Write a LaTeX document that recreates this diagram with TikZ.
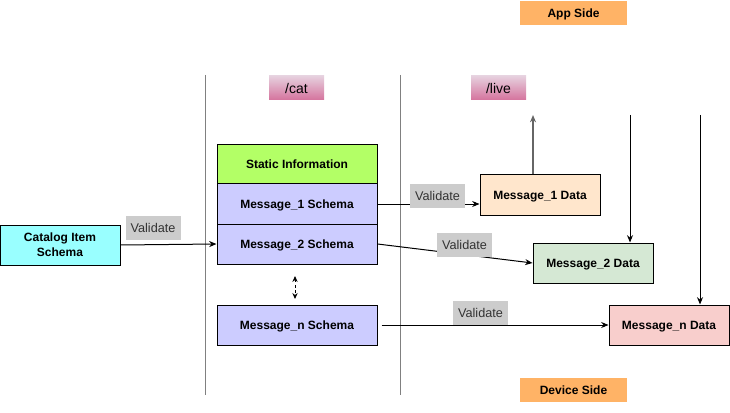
\documentclass[tikz,border=0pt]{standalone}
\usepackage{fontspec}
\setmainfont{Liberation Sans}
\usetikzlibrary{arrows.meta}
\definecolor{schemacol}{HTML}{CCCCFF}
\definecolor{staticcol}{HTML}{B3FF66}
\definecolor{catcol}{HTML}{99FFFF}
\definecolor{m1col}{HTML}{FFE6CC}
\definecolor{m2col}{HTML}{D5E8D4}
\definecolor{mncol}{HTML}{F8CECC}
\definecolor{valcol}{HTML}{CCCCCC}
\definecolor{sidecol}{HTML}{FFB366}
\definecolor{pinktop}{HTML}{E6D0DE}
\definecolor{pinkbot}{HTML}{D5739D}
\definecolor{linegray}{HTML}{808080}
\definecolor{arrgray}{HTML}{666666}
\tikzset{
  box/.style={draw=black, line width=0.75pt, align=center, inner sep=0pt,
    font=\fontsize{9}{11}\selectfont\bfseries},
  schemabox/.style={box, fill=schemacol, minimum width=120pt, minimum height=30pt,
    text height=6.6pt, text depth=0pt},
  databox/.style={box, minimum width=90pt, minimum height=30pt,
    text height=6.6pt, text depth=0pt},
  vallabel/.style={fill=valcol, minimum width=41.25pt, minimum height=18pt, inner sep=0pt,
    font=\fontsize{9.5}{11}\selectfont, text=black!80, text height=7pt, text depth=0pt},
  pathlabel/.style={top color=pinktop, bottom color=pinkbot, minimum width=41.25pt,
    minimum height=18pt, inner sep=0pt, font=\fontsize{10.5}{12}\selectfont},
  sidelabel/.style={fill=sidecol, minimum width=80pt, minimum height=18pt, inner sep=0pt,
    font=\fontsize{9}{11}\selectfont\bfseries, text height=6.6pt, text depth=0pt},
  conn/.style={line width=0.75pt, -{Stealth[length=5.5pt,width=4.5pt]}},
  divider/.style={draw=linegray, line width=0.75pt}
}
\begin{document}
\begin{tikzpicture}[x=0.75pt,y=-0.75pt]
\useasboundingbox (0,0) rectangle (730,413);
% dividers
\draw[divider] (205,75) -- (205,395);
\draw[divider] (400,75) -- (400,395);
% labels top/bottom
\node[pathlabel] (catlbl) at (296.5,88) {/cat};
\node[pathlabel] (livelbl) at (498.5,88) {/live};
\node[sidelabel] (app) at (573.5,13) {App Side};
\node[sidelabel] (device) at (573.5,390) {Device Side};
% schema stack
\node[schemabox, fill=staticcol, minimum height=29.6pt] (static) at (297,164.5) {Static Information};
\node[schemabox] (m1s) at (297,204) {Message\_1 Schema};
\node[schemabox] (m2s) at (297,244) {Message\_2 Schema};
\node[schemabox] (mns) at (297,325) {Message\_n Schema};
% catalog
\node[box, fill=catcol, minimum width=90pt, minimum height=30pt] (catalog) at (60,245) {Catalog Item\\Schema};
% data boxes
\node[databox, fill=m1col] (m1d) at (540,195) {Message\_1 Data};
\node[databox, fill=m2col] (m2d) at (593,263) {Message\_2 Data};
\node[databox, fill=mncol] (mnd) at (669,325) {Message\_n Data};
% free ends
\coordinate (up1) at (533,115);
\coordinate (down2) at (630,115);
\coordinate (downn) at (700,115);
\coordinate (dtop) at (295,276);
\coordinate (dbot) at (295,299);
% connectors
\draw[conn] (catalog.east) -- (m2s.west);
\draw[conn] (m1s.east) -- (m1s.east -| m1d.west);
\draw[conn] (m2s.east) -- (m2d.west);
\draw[conn, shorten <=3pt] (mns.east) -- (mnd.west);
\draw[conn, draw=arrgray, line width=1.1pt] (up1 |- m1d.north) -- (up1);
\draw[conn] (down2) -- (down2 |- m2d.north);
\draw[conn] (downn) -- (downn |- mnd.north);
\draw[line width=0.75pt, dashed, dash pattern=on 2pt off 2pt,
  {Stealth[length=4.5pt,width=4pt]}-{Stealth[length=4.5pt,width=4pt]}] (dtop) -- (dbot);
% validate labels
\node[vallabel] (val1) at (153,228) {Validate};
\node[vallabel] (val2) at (437.5,196) {Validate};
\node[vallabel] (val3) at (464.5,245) {Validate};
\node[vallabel] (val4) at (480.5,313) {Validate};
\end{tikzpicture}
\end{document}
